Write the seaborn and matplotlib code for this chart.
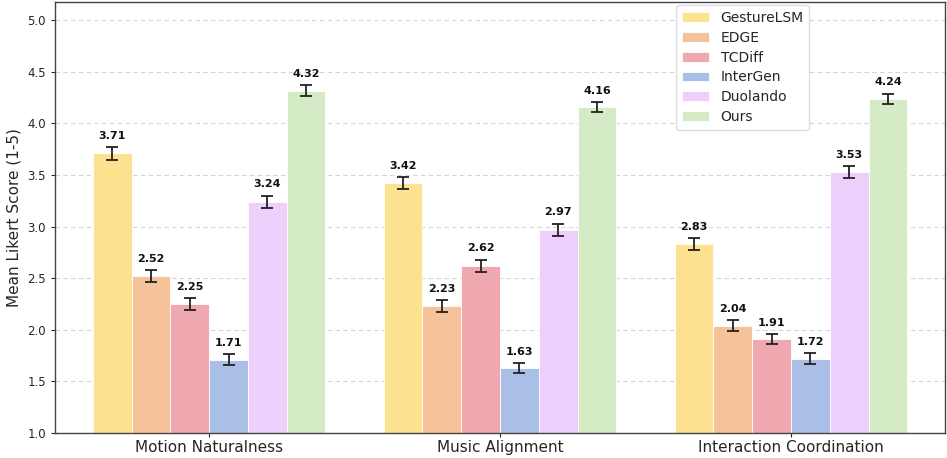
import matplotlib
matplotlib.use("Agg")
import matplotlib.pyplot as plt
import seaborn as sns
import pandas as pd
import numpy as np

categories = ["Motion Naturalness", "Music Alignment", "Interaction Coordination"]
methods = ["GestureLSM", "EDGE", "TCDiff", "InterGen", "Duolando", "Ours"]

gesturelsm = [3.71, 3.42, 2.83]
edge = [2.52, 2.23, 2.04]
tcdiff = [2.25, 2.62, 1.91]
intergen = [1.71, 1.63, 1.72]
duolando = [3.24, 2.97, 3.53]
ours = [4.32, 4.16, 4.24]

gesturelsm_err = [0.06, 0.06, 0.06]
edge_err = [0.06, 0.06, 0.05]
tcdiff_err = [0.06, 0.06, 0.05]
intergen_err = [0.05, 0.05, 0.05]
duolando_err = [0.06, 0.06, 0.06]
ours_err = [0.05, 0.05, 0.05]

colors = ["#FCE191", "#F5C29A", "#F0A8B0", "#A9BFE6", "#EECEFA", "#D4EBC5"]

values = [gesturelsm, edge, tcdiff, intergen, duolando, ours]
errors = [gesturelsm_err, edge_err, tcdiff_err, intergen_err, duolando_err, ours_err]

rows = []
for m, vals, errs in zip(methods, values, errors):
    for c, v, e in zip(categories, vals, errs):
        rows.append({"Criterion": c, "Method": m, "Score": v, "Err": e})
df = pd.DataFrame(rows)

sns.set_style("ticks")
plt.rcParams["font.family"] = ["DejaVu Sans"]
fig, ax = plt.subplots(figsize=(9.47, 4.58), dpi=100)
fig.subplots_adjust(left=0.058, right=0.998, top=0.996, bottom=0.055)

sns.barplot(data=df, x="Criterion", y="Score", hue="Method", order=categories,
            hue_order=methods, palette=colors, saturation=1, errorbar=None, width=0.8,
            edgecolor="white", linewidth=0.6, ax=ax, zorder=2)

# error bars and value labels on each bar
for container, m in zip(ax.containers, methods):
    sub = df[df["Method"] == m].set_index("Criterion").loc[categories]
    for patch, (_, r) in zip(container.patches, sub.iterrows()):
        xc = patch.get_x() + patch.get_width() / 2
        ax.errorbar(xc, r["Score"], yerr=r["Err"], fmt="none", ecolor="#222222",
                    elinewidth=1.3, capsize=4, capthick=1.3, zorder=3)
        ax.text(xc, r["Score"] + r["Err"] + 0.06, f"{r['Score']:.2f}",
                ha="center", va="bottom", fontsize=8, fontweight="bold", color="#111111")

ax.set_ylim(1.0, 5.18)
ax.set_xlim(-0.53, 2.53)
ax.set_yticks(np.arange(1.0, 5.01, 0.5))
ax.yaxis.grid(True, linestyle=(0, (4, 3)), color="#d4d4d4", linewidth=0.8, zorder=0)
ax.set_axisbelow(True)
ax.set_xlabel("")
ax.set_ylabel("Mean Likert Score (1-5)", fontsize=11)
ax.tick_params(axis="x", labelsize=11, length=3, pad=2)
ax.tick_params(axis="y", labelsize=8.5, length=3)
for s in ax.spines.values():
    s.set_visible(True)
    s.set_color("#444444")
    s.set_linewidth(1.0)

ax.legend(loc="upper left", bbox_to_anchor=(0.690, 1.008), fontsize=10,
          labelspacing=0.42, frameon=True, framealpha=1.0, edgecolor="#dddddd",
          handlelength=2.0)

fig.savefig("out.png", dpi=100)
